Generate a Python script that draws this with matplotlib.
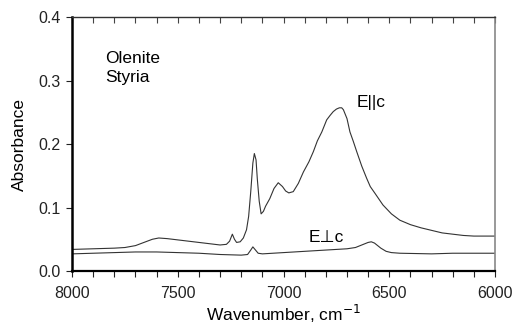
import matplotlib
matplotlib.use('Agg')
from matplotlib import pyplot as plt
from matplotlib.ticker import MultipleLocator

plt.rcParams['font.family'] = ['Liberation Sans', 'DejaVu Sans']

# E||c spectrum
para_wn = [8000, 7900, 7800, 7750, 7700, 7660, 7620, 7590, 7550, 7500, 7450, 7400, 7350, 7300,
           7270, 7255, 7242, 7232, 7222, 7205, 7190, 7175, 7165, 7155, 7145, 7138, 7130, 7124,
           7115, 7106, 7095, 7085, 7065, 7045, 7025, 7005, 6990, 6975, 6954, 6930, 6906, 6880,
           6859, 6840, 6819, 6796, 6780, 6765, 6750, 6736, 6725, 6717, 6700, 6686, 6670, 6654,
           6630, 6607, 6590, 6567, 6530, 6490, 6450, 6400, 6350, 6300, 6250, 6200, 6150, 6100,
           6050, 6000]
para_abs = [0.034, 0.035, 0.036, 0.037, 0.040, 0.045, 0.050, 0.052, 0.051, 0.049, 0.047, 0.045,
            0.043, 0.041, 0.042, 0.047, 0.058, 0.050, 0.045, 0.046, 0.052, 0.065, 0.086, 0.125,
            0.170, 0.185, 0.175, 0.145, 0.110, 0.090, 0.094, 0.102, 0.114, 0.130, 0.139, 0.133,
            0.126, 0.123, 0.125, 0.138, 0.156, 0.172, 0.188, 0.205, 0.219, 0.238, 0.245, 0.251,
            0.255, 0.257, 0.257, 0.254, 0.240, 0.219, 0.204, 0.188, 0.165, 0.146, 0.133, 0.122,
            0.104, 0.090, 0.080, 0.073, 0.068, 0.064, 0.060, 0.058, 0.056, 0.055, 0.055, 0.055]

# E perpendicular c spectrum
perp_wn = [8000, 7900, 7800, 7700, 7600, 7500, 7400, 7300, 7200, 7170, 7155, 7145, 7135, 7120,
           7100, 7050, 7000, 6900, 6800, 6700, 6660, 6630, 6600, 6585, 6570, 6540, 6515, 6490,
           6450, 6300, 6200, 6000]
perp_abs = [0.027, 0.028, 0.029, 0.030, 0.030, 0.029, 0.028, 0.026, 0.025, 0.026, 0.033, 0.038,
            0.034, 0.028, 0.027, 0.028, 0.029, 0.031, 0.033, 0.035, 0.037, 0.041, 0.045, 0.046,
            0.044, 0.036, 0.031, 0.029, 0.028, 0.027, 0.028, 0.028]

fig = plt.figure(figsize=(5.13, 3.32), dpi=100)
ax = fig.add_axes([0.1404, 0.1837, 0.8246, 0.7651])

ax.plot(para_wn, para_abs, color='#333333', lw=0.8)
ax.plot(perp_wn, perp_abs, color='#333333', lw=0.8)

ax.set_xlim(8000, 6000)
ax.set_ylim(0, 0.4)
ax.xaxis.set_major_locator(MultipleLocator(500))
ax.xaxis.set_minor_locator(MultipleLocator(100))
ax.yaxis.set_major_locator(MultipleLocator(0.1))
ax.yaxis.set_major_formatter(plt.FormatStrFormatter('%.1f'))

ax.tick_params(axis='x', which='both', direction='out', top=False, length=4, width=0.8,
               labelsize=11.5, pad=7, colors='#222222')
ax.tick_params(axis='y', which='both', direction='out', right=False, length=4, width=0.8,
               labelsize=11.5, pad=4, colors='#222222')

# inward ticks along the top edge
top = ax.secondary_xaxis('top')
top.xaxis.set_major_locator(MultipleLocator(500))
top.xaxis.set_minor_locator(MultipleLocator(100))
top.tick_params(which='both', direction='in', length=4, width=0.8, labeltop=False, colors='#444444')
top.spines['top'].set_visible(False)

ax.spines['left'].set_linewidth(1.8)
ax.spines['bottom'].set_linewidth(1.6)
ax.spines['top'].set_linewidth(1.0)
ax.spines['top'].set_color('#333333')
ax.spines['right'].set_linewidth(1.2)
ax.spines['right'].set_color('#888888')

ax.set_xlabel('Wavenumber, cm$^{-1}$', fontsize=12.5, labelpad=1)
ax.set_ylabel('Absorbance', fontsize=12.5, labelpad=8)

ax.text(7845, 0.335, 'Olenite', fontsize=12.5, va='center')
ax.text(7845, 0.305, 'Styria', fontsize=12.5, va='center')
ax.text(6585, 0.265, 'E||c', fontsize=12.5, va='center', ha='center')
ax.text(6800, 0.053, 'E\u22a5c', fontsize=12.5, va='center', ha='center')

fig.savefig('out.png', dpi=100)
